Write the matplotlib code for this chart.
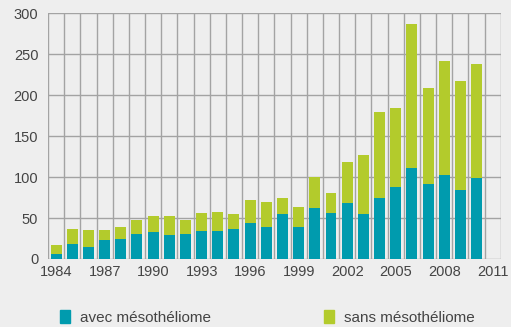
import matplotlib.pyplot as plt
import matplotlib.patches as mpatches
import numpy as np

# années et effectifs (avec / sans mésothéliome)
annees = np.arange(1984, 2011)
avec = [6, 18, 15, 23, 25, 31, 33, 29, 30, 34, 34, 37, 44, 39, 55, 39,
        62, 56, 68, 55, 74, 88, 111, 92, 102, 84, 99]
total = [17, 37, 36, 36, 39, 48, 53, 52, 48, 56, 58, 55, 72, 70, 74, 64,
         100, 81, 119, 127, 179, 185, 287, 209, 242, 218, 238]
sans = [t - a for t, a in zip(total, avec)]

ticks_x = list(range(1984, 2012, 3))
ticks_y = list(range(0, 301, 50))

bleu = "#009bae"
vert = "#b3cb2c"
fond = "#eeeeee"
grille = "#a3a3a3"

plt.rcParams["font.family"] = ["Liberation Sans", "DejaVu Sans"]

fig = plt.figure(figsize=(5.11, 3.27), dpi=100, facecolor=fond)
ax = fig.add_axes([0.094, 0.208, 0.886, 0.751])
ax.set_facecolor(fond)

ax.bar(annees, avec, width=0.68, color=bleu, zorder=3)
ax.bar(annees, sans, width=0.68, bottom=avec, color=vert, zorder=3)

ax.set_xlim(1983.5, 2011.5)
ax.set_ylim(0, 300)
ax.set_xticks(ticks_x)
ax.set_xticks(np.arange(1983.5, 2012, 1), minor=True)
ax.set_yticks(ticks_y)

ax.grid(which="minor", axis="x", color=grille, linewidth=1.0, zorder=0)
ax.grid(which="major", axis="y", color=grille, linewidth=1.0, zorder=0)
ax.tick_params(which="both", length=0, labelsize=10.5, colors="#444444")
ax.tick_params(axis="y", pad=7)
ax.tick_params(axis="x", pad=4)
for s in ax.spines.values():
    s.set_visible(False)

# légende en bas
h1 = mpatches.Patch(color=bleu, label="avec mésothéliome")
h2 = mpatches.Patch(color=vert, label="sans mésothéliome")
fig.legend(handles=[h1, h2], ncol=2, loc="lower left",
           bbox_to_anchor=(0.09, -0.035), frameon=False,
           handlelength=0.7, handleheight=0.9, handletextpad=0.6,
           columnspacing=7.4, fontsize=11, labelcolor="#444444")

fig.savefig("out.png", dpi=100, facecolor=fond)
